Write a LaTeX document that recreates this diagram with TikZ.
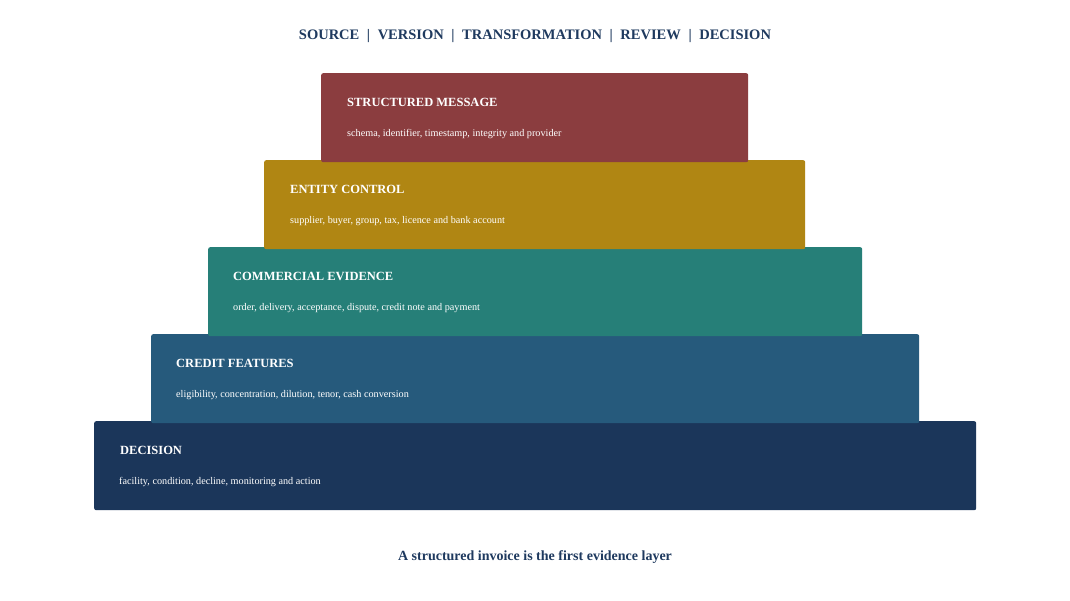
\documentclass[tikz,border=0pt]{standalone}
\usepackage{fontspec}
\setmainfont{Liberation Serif}
\definecolor{cred}{HTML}{8B3D3F}
\definecolor{cgold}{HTML}{B08613}
\definecolor{cteal}{HTML}{267F78}
\definecolor{cblue}{HTML}{265A7C}
\definecolor{cnavy}{HTML}{1B365A}
\definecolor{titlec}{HTML}{1F3A5F}
\begin{document}
\begin{tikzpicture}[x=1pt,y=-1pt,
  layer/.style={draw=none,rounded corners=2pt,anchor=north west,inner sep=0pt,minimum height=89pt},
  ltitle/.style={anchor=base west,inner sep=0pt,text=white,font=\fontsize{12.5}{14}\selectfont\bfseries},
  lsub/.style={anchor=base west,inner sep=0pt,text=white,font=\fontsize{10.2}{12}\selectfont},
  head/.style={anchor=base,inner sep=0pt,text=titlec,font=\fontsize{14.5}{17}\selectfont\bfseries},
  capt/.style={anchor=base,inner sep=0pt,text=titlec,font=\fontsize{14}{17}\selectfont\bfseries}]
\useasboundingbox (0,0) rectangle (1070,600);
\fill[white] (0,0) rectangle (1070,600);
\newcommand{\sep}{\hspace{7.6pt}|\hspace{7.6pt}}
\node[head] (head) at (535,39) {SOURCE\sep VERSION\sep TRANSFORMATION\sep REVIEW\sep DECISION};
% layers, bottom first
\node[layer,fill=cnavy,minimum width=882pt] (b5) at (94,421) {};
\node[layer,fill=cblue,minimum width=768pt] (b4) at (151,334) {};
\node[layer,fill=cteal,minimum width=654pt] (b3) at (208,247) {};
\node[layer,fill=cgold,minimum width=541pt] (b2) at (264,160) {};
\node[layer,fill=cred,minimum width=427pt] (b1) at (321,73) {};
\node[ltitle] (t1) at (347,106) {STRUCTURED MESSAGE};
\node[lsub] (s1) at (347,136) {schema, identifier, timestamp, integrity and provider};
\node[ltitle] (t2) at (290,193) {ENTITY CONTROL};
\node[lsub] (s2) at (290,223) {supplier, buyer, group, tax, licence and bank account};
\node[ltitle] (t3) at (233,280) {COMMERCIAL EVIDENCE};
\node[lsub] (s3) at (233,310) {order, delivery, acceptance, dispute, credit note and payment};
\node[ltitle] (t4) at (176,367) {CREDIT FEATURES};
\node[lsub] (s4) at (176,397) {eligibility, concentration, dilution, tenor, cash conversion};
\node[ltitle] (t5) at (120,454) {DECISION};
\node[lsub] (s5) at (119,484) {facility, condition, decline, monitoring and action};
\node[capt] (cap) at (535,560) {A structured invoice is the first evidence layer};
\end{tikzpicture}
\end{document}
